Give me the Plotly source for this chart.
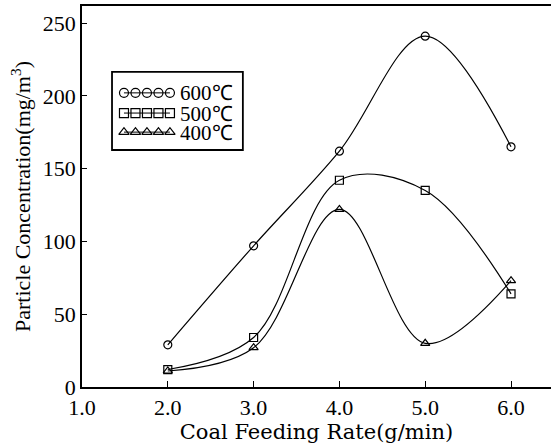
import numpy as np
import plotly.graph_objects as go

feed_rate = [2.0, 3.0, 4.0, 5.0, 6.0]
conc_600 = [29, 97, 162, 241, 165]
conc_500 = [12, 34, 142, 135, 64]
conc_400 = [11, 27, 122, 30, 73]
series_names = ["600℃", "500℃", "400℃"]
symbols = ["circle-open", "square-open", "triangle-up-open"]
x_ticks = [1.0, 2.0, 3.0, 4.0, 5.0, 6.0]
x_tick_labels = ["1.0", "2.0", "3.0", "4.0", "5.0", "6.0"]
y_ticks = [0, 50, 100, 150, 200, 250]

FONT = "Liberation Serif"
FONT_W = "DejaVu Serif"

fig = go.Figure()
for vals, sym in zip([conc_600, conc_500, conc_400], symbols):
    fig.add_trace(go.Scatter(
        x=feed_rate, y=vals, mode="lines+markers",
        line=dict(color="black", width=1.2, shape="spline", smoothing=1.0),
        marker=dict(symbol=sym, size=8, color="black", line=dict(width=1.2, color="black")),
        showlegend=False,
    ))

# custom legend drawn on an overlay axis in [0,1] paper-like space
lx0, lx1 = 0.064, 0.343
ly0, ly1 = 0.622, 0.827
rows_y = [0.772, 0.719, 0.669]
mk_x = list(np.linspace(0.0895, 0.1875, 5))
for sym, ry, name in zip(symbols, rows_y, series_names):
    fig.add_trace(go.Scatter(
        x=mk_x, y=[ry] * 5, xaxis="x2", yaxis="y2", mode="lines+markers",
        line=dict(color="black", width=1),
        marker=dict(symbol=sym, size=9, color="black", line=dict(width=1.2, color="black")),
        showlegend=False, hoverinfo="skip",
    ))
    fig.add_annotation(x=0.205, y=ry, xref="x2", yref="y2", text=name, showarrow=False,
                       xanchor="left", yanchor="middle", height=19,
                       font=dict(family=FONT, size=21, color="black"))

fig.add_shape(type="rect", xref="paper", yref="paper", x0=lx0, x1=lx1, y0=ly0, y1=ly1,
              line=dict(color="black", width=1.8))

fig.update_layout(
    width=551, height=447,
    margin=dict(l=82, r=0, t=6, b=60),
    paper_bgcolor="white", plot_bgcolor="white",
    font=dict(family=FONT, size=22, color="black"),
    xaxis=dict(range=[1.0, 6.466], tickvals=x_ticks, ticktext=x_tick_labels,
               ticks="inside", ticklen=6, tickwidth=1.2, tickcolor="black",
               showline=True, linecolor="black", linewidth=1.6, mirror=True,
               showgrid=False, zeroline=False, tickfont=dict(family=FONT, size=22),
               title=dict(text="Coal Feeding Rate(g/min)", standoff=0,
                          font=dict(family=FONT_W, size=21))),
    yaxis=dict(range=[0, 261.7], tickvals=y_ticks,
               ticks="inside", ticklen=5, tickwidth=1.2, tickcolor="black",
               showline=True, linecolor="black", linewidth=1.6,
               showgrid=False, zeroline=False, tickfont=dict(family=FONT, size=22),
               title=dict(text="Particle Concentration(mg/m<sup>3</sup>)", standoff=6,
                          font=dict(family=FONT, size=22))),
    xaxis2=dict(range=[0, 1], overlaying="x", visible=False, fixedrange=True),
    yaxis2=dict(range=[0, 1], overlaying="y", visible=False, fixedrange=True),
)

fig.write_html("out.html")
